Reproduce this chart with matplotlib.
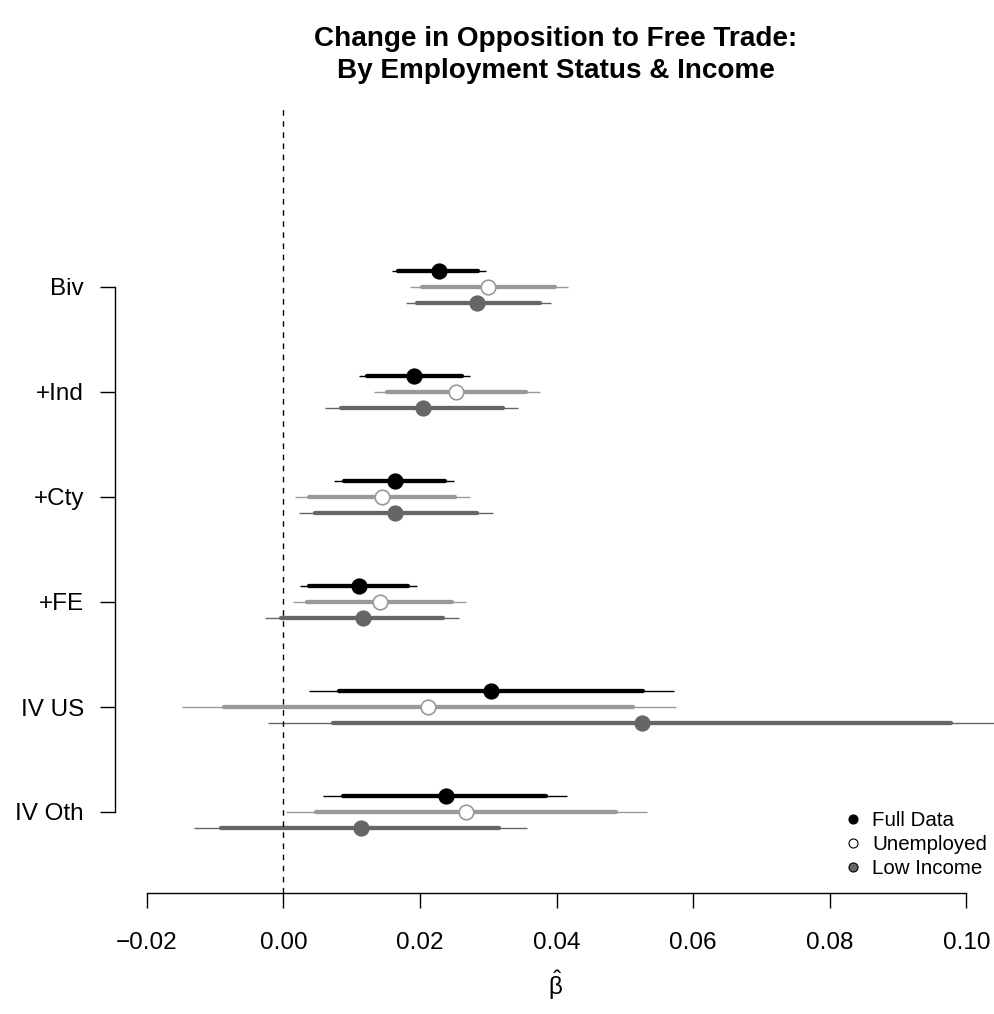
import matplotlib
matplotlib.use('Agg')
import matplotlib.pyplot as plt
from matplotlib.lines import Line2D
import numpy as np

plt.rcParams['font.family'] = ['Liberation Sans', 'DejaVu Sans']
plt.rcParams['mathtext.fontset'] = 'custom'
plt.rcParams['mathtext.rm'] = 'Liberation Sans'
plt.rcParams['mathtext.it'] = 'Liberation Sans'

models = ['Biv', '+Ind', '+Cty', '+FE', 'IV US', 'IV Oth']
xticks = [-0.02, 0.00, 0.02, 0.04, 0.06, 0.08, 0.10]

# Full data
full_est = [0.0228, 0.0191, 0.0163, 0.0110, 0.0304, 0.0238]
full_lo90 = [0.0168, 0.0123, 0.0089, 0.0037, 0.0082, 0.0087]
full_hi90 = [0.0285, 0.0261, 0.0237, 0.0182, 0.0526, 0.0384]
full_lo95 = [0.0159, 0.0110, 0.0074, 0.0024, 0.0037, 0.0058]
full_hi95 = [0.0297, 0.0273, 0.0250, 0.0195, 0.0572, 0.0415]

# Unemployed
unemp_est = [0.0300, 0.0252, 0.0145, 0.0141, 0.0212, 0.0268]
unemp_lo90 = [0.0203, 0.0151, 0.0037, 0.0035, -0.0087, 0.0048]
unemp_hi90 = [0.0397, 0.0355, 0.0251, 0.0247, 0.0512, 0.0487]
unemp_lo95 = [0.0185, 0.0133, 0.0017, 0.0014, -0.0148, 0.0004]
unemp_hi95 = [0.0416, 0.0375, 0.0273, 0.0268, 0.0575, 0.0532]

# Low income
low_est = [0.0284, 0.0204, 0.0164, 0.0116, 0.0525, 0.0113]
low_lo90 = [0.0196, 0.0085, 0.0046, -0.0004, 0.0072, -0.0091]
low_hi90 = [0.0375, 0.0321, 0.0284, 0.0234, 0.0978, 0.0316]
low_lo95 = [0.0180, 0.0061, 0.0023, -0.0027, -0.0022, -0.0131]
low_hi95 = [0.0392, 0.0344, 0.0307, 0.0257, 0.1072, 0.0357]

W, H = 995, 1014
fig = plt.figure(figsize=(W / 100, H / 100), dpi=100)
ax = fig.add_axes([115 / W, (H - 893) / H, 880 / W, (893 - 105) / H])

ypos = np.arange(len(models), 0, -1).astype(float)  # Biv=6 ... IV Oth=1
off = 0.148

series = [
    (full_est, full_lo90, full_hi90, full_lo95, full_hi95, off, 'black', 'black', 'black'),
    (unemp_est, unemp_lo90, unemp_hi90, unemp_lo95, unemp_hi95, 0.0, '#999999', 'white', '#999999'),
    (low_est, low_lo90, low_hi90, low_lo95, low_hi95, -off, '#666666', '#666666', '#666666'),
]

for est, lo90, hi90, lo95, hi95, dy, col, face, edge in series:
    y = ypos + dy
    ax.hlines(y, lo95, hi95, color=col, lw=1.0)
    ax.hlines(y, lo90, hi90, color=col, lw=3.1, capstyle='round')
    ax.plot(est, y, 'o', ms=10.5, mfc=face, mec=edge, mew=1.2, zorder=5)

ax.axvline(0, color='black', lw=1.0, ls=(0, (4, 4)))

ax.set_xlim(-168.4 / 6830, 711.6 / 6830)
ax.set_ylim(1 - 81 / 105, 6 + 182 / 105)

ax.set_xticks(xticks)
ax.set_xticklabels(['\u22120.02', '0.00', '0.02', '0.04', '0.06', '0.08', '0.10'])
ax.set_yticks(ypos)
ax.set_yticklabels(models)

for s in ['top', 'right']:
    ax.spines[s].set_visible(False)
ax.spines['left'].set_bounds(1, 6)
ax.spines['bottom'].set_bounds(-0.02, 0.10)
ax.spines['left'].set_linewidth(1.0)
ax.spines['bottom'].set_linewidth(1.0)
ax.tick_params(axis='x', direction='out', length=10.8, width=1.0, pad=17, labelsize=17.5)
ax.tick_params(axis='y', direction='out', length=10.8, width=1.0, pad=11.5, labelsize=17.5)

fig.text(556 / W, 1 - 55 / H, 'Change in Opposition to Free Trade:\nBy Employment Status & Income',
         ha='center', va='center', fontsize=20.1, fontweight='bold', linespacing=1.3)
fig.text(555 / W, 1 - 985 / H, r'$\hat{\mathrm{\beta}}$', ha='center', va='center', fontsize=17.5)

handles = [
    Line2D([], [], ls='none', marker='o', ms=6.5, mfc='black', mec='black', mew=0.8),
    Line2D([], [], ls='none', marker='o', ms=6.5, mfc='white', mec='black', mew=0.8),
    Line2D([], [], ls='none', marker='o', ms=6.5, mfc='#666666', mec='black', mew=0.8),
]
ax.legend(handles, ['Full Data', 'Unemployed', 'Low Income'], loc='upper left',
          bbox_to_anchor=(845 / W, 1 - 811 / H), bbox_transform=fig.transFigure,
          frameon=False, fontsize=14.8, handlelength=0.8, handletextpad=0.52,
          labelspacing=0.25, borderpad=0, borderaxespad=0)

fig.savefig('out.png', dpi=100)
